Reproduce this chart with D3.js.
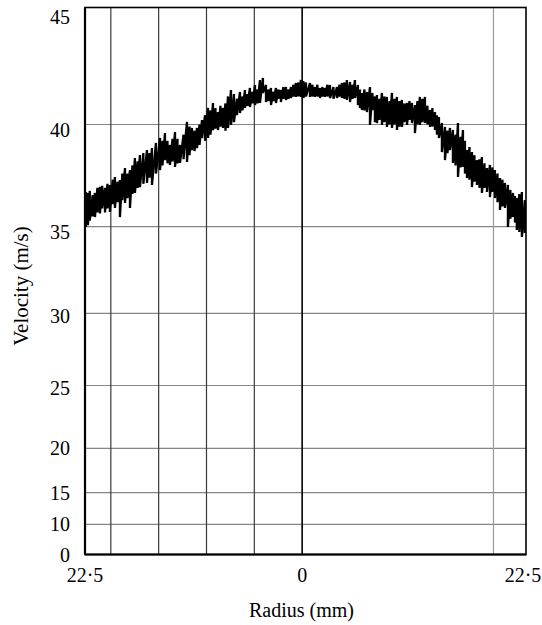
<!DOCTYPE html>
<html><head><meta charset="utf-8">
<script src="https://cdn.jsdelivr.net/npm/d3@7"></script>
<style>
body{margin:0;background:#fff;}
svg{display:block;}
</style></head>
<body>
<script>
// ---- data ----
const yTickValues = [0, 10, 15, 20, 25, 30, 35, 40, 45];
const xGridValues = [-20, -15, -10, -5, 0, 20];
const xTickLabels = ["22·5", "0", "22·5"];
const xTitle = "Radius (mm)";
const yTitle = "Velocity (m/s)";

// each vertical stroke of the measured trace: radius (mm), upper and lower velocity (m/s)
const radius = [
-22.6,-22.4,-22.2,-21.9,-21.66,-21.4,-21.14,-20.9,-20.61,-20.35,-20.09,-19.8,-19.57,-19.3,-19.05,-18.8,-18.52,-18.26,-18.0,-17.74,
-17.48,-17.2,-16.96,-16.6,-16.22,-15.96,-15.7,-15.28,-14.86,-14.6,-14.34,-14.08,-13.82,-13.55,-13.29,-13.03,-12.77,-12.4,-12.04,-11.78,
-11.52,-11.25,-10.99,-10.73,-10.47,-10.15,-9.84,-9.58,-9.32,-9.06,-8.8,-8.54,-8.28,-8.02,-7.75,-7.44,-7.13,-6.82,-6.5,-6.24,
-5.98,-5.72,-5.46,-5.19,-4.93,-4.67,-4.41,-4.1,-3.78,-3.52,-3.26,-3.0,-2.74,-2.48,-2.22,-1.96,-1.69,-1.43,-1.17,-0.91,
-0.65,-0.39,-0.13,0.14,0.4,0.82,1.08,1.34,1.6,1.86,2.12,2.38,2.64,2.91,3.27,3.64,3.9,4.16,4.42,4.68,
5.0,5.26,5.52,5.83,6.04,6.25,6.51,6.77,7.09,7.35,7.61,7.82,8.08,8.34,8.6,8.86,9.13,9.39,9.65,9.91,
10.17,10.43,10.69,10.96,11.22,11.48,11.79,12.05,12.31,12.57,12.84,13.1,13.36,13.62,13.88,14.09,14.3,14.61,14.93,15.19,
15.45,15.76,16.03,16.29,16.55,16.81,17.02,17.23,17.49,17.75,18.01,18.27,18.53,18.79,19.06,19.32,19.63,19.89,20.15,20.42,
20.68,20.94,21.2,21.51,21.77,22.04,22.25,22.44,22.7,22.97,23.28
];
const vHigh = [
36.70,36.65,36.75,36.55,36.65,36.90,36.95,37.00,36.90,37.10,37.04,37.30,37.43,37.20,37.28,37.60,37.87,37.60,37.77,38.00,
38.36,38.20,38.51,38.60,38.75,38.60,38.85,39.10,39.34,39.20,39.58,39.20,39.00,39.30,39.63,39.30,39.00,39.50,40.11,39.90,
39.83,39.70,39.83,40.00,40.19,40.40,40.71,40.60,40.92,40.70,40.53,40.80,40.71,40.90,41.20,41.47,41.30,41.10,41.39,41.20,
41.47,41.30,41.56,41.40,41.69,41.50,41.90,41.99,41.69,41.50,41.56,41.40,41.56,41.50,41.47,41.60,41.60,41.50,41.60,41.70,
41.77,41.80,41.90,41.85,41.80,41.77,41.70,41.60,41.70,41.56,41.60,41.56,41.70,41.69,41.60,41.60,41.70,41.77,41.80,41.90,
41.82,41.70,41.90,41.69,41.50,41.35,41.50,41.39,41.60,41.35,41.20,41.26,41.10,41.35,41.20,41.18,41.00,41.35,41.10,41.18,
41.00,41.05,40.90,40.92,41.00,40.92,40.83,41.00,41.18,41.10,41.18,40.80,40.62,40.70,40.53,40.40,40.32,40.06,39.88,39.70,
39.83,39.73,39.50,40.06,39.40,39.73,39.20,38.75,38.90,38.65,38.50,38.26,38.30,38.41,38.10,37.87,38.02,37.90,37.77,37.60,
37.38,37.30,37.14,37.04,36.80,36.65,36.50,36.40,36.60,36.70,36.30
];
const vLow = [
34.98,35.08,35.30,35.50,35.47,35.70,35.65,35.90,35.70,35.90,35.72,36.10,35.92,36.20,35.47,36.30,36.16,36.40,35.92,36.60,
36.65,36.90,36.94,37.10,37.14,37.40,37.04,37.60,37.77,38.00,38.26,38.10,38.02,38.20,37.92,38.10,38.12,38.30,38.17,38.50,
38.75,38.70,38.85,39.00,39.34,39.20,39.34,39.50,39.73,39.80,39.73,39.90,39.83,39.70,39.83,39.98,40.10,40.40,40.49,40.60,
40.71,40.80,40.75,40.90,40.83,40.90,40.92,41.35,40.96,41.00,40.83,41.00,40.92,41.10,40.96,41.10,41.05,41.10,41.13,41.20,
41.18,41.20,41.18,41.13,41.20,41.18,41.20,41.18,41.20,41.13,41.20,41.18,41.20,41.13,41.10,41.13,41.20,41.13,41.10,41.05,
40.96,41.10,41.13,40.83,40.70,40.62,40.60,40.53,39.98,40.62,40.10,40.06,40.20,39.98,40.10,39.88,40.00,39.83,40.00,39.73,
39.90,39.88,40.10,39.98,40.20,40.06,39.58,40.00,39.98,40.10,40.06,40.00,39.88,39.90,39.73,39.50,39.34,38.65,38.26,38.60,
38.75,38.12,38.00,37.43,37.90,37.92,37.60,37.38,37.30,36.94,37.20,37.04,36.90,36.65,36.90,36.70,36.45,36.70,36.40,36.20,
35.82,36.00,35.92,34.98,35.40,35.47,35.20,34.81,34.70,34.41,34.64
];

// ---- layout ----
const W = 542, H = 625;
const FONT = '"Times New Roman", Tinos, "DejaVu Serif"';
const plot = {left: 85, right: 526, top: 7.5, bottom: 554.5};
// the printed velocity axis is non-uniform: each labelled value sits at its own height
const yStops = [554.5, 524.3, 492.7, 448.3, 385.5, 313.3, 226.7, 124.5, 7.5];

const svg = d3.select("body").append("svg").attr("width", W).attr("height", H);

const x = d3.scaleLinear().domain([-22.7, 23.4]).range([plot.left, plot.right]);
const y = d3.scaleLinear().domain(yTickValues).range(yStops);

// horizontal grid
svg.append("g").selectAll("line").data(yTickValues.filter(v => v > 0 && v < 45)).join("line")
  .attr("x1", plot.left).attr("x2", plot.right)
  .attr("y1", d => y(d)).attr("y2", d => y(d))
  .attr("stroke", "#858585").attr("stroke-width", 1.2);

// vertical grid
svg.append("g").selectAll("line").data(xGridValues).join("line")
  .attr("x1", d => x(d)).attr("x2", d => x(d))
  .attr("y1", plot.top).attr("y2", plot.bottom)
  .attr("stroke", d => d === 0 ? "#000" : (d > 0 ? "#9a9a9a" : "#3a3a3a"))
  .attr("stroke-width", d => d === 0 ? 1.6 : 1.2);

// frame
svg.append("rect")
  .attr("x", plot.left).attr("y", plot.top)
  .attr("width", plot.right - plot.left).attr("height", plot.bottom - plot.top)
  .attr("fill", "none").attr("stroke", "#000").attr("stroke-width", 1.6);
svg.append("line").attr("x1", plot.left).attr("x2", plot.right)
  .attr("y1", plot.bottom).attr("y2", plot.bottom).attr("stroke", "#000").attr("stroke-width", 2.2);
svg.append("line").attr("x1", plot.left).attr("x2", plot.left)
  .attr("y1", plot.top).attr("y2", plot.bottom).attr("stroke", "#000").attr("stroke-width", 2.2);

// trace
const pts = [];
radius.forEach((r, i) => { pts.push([r, vHigh[i]]); pts.push([r, vLow[i]]); });
const line = d3.line().x(d => x(d[0])).y(d => y(d[1]));
svg.append("path").attr("d", line(pts))
  .attr("fill", "none").attr("stroke", "#000").attr("stroke-width", 2.3)
  .attr("stroke-linejoin", "bevel");

// y tick labels (printed slightly below their lines in the upper part)
svg.append("g").selectAll("text").data(yTickValues).join("text")
  .attr("x", 70)
  .attr("y", d => Math.max(y(d) + (d >= 35 ? 5 : d >= 25 ? 2.5 : 0), 16.5))
  .attr("dy", "0.35em")
  .attr("text-anchor", "end").attr("font-size", 20)
  .style("font-family", FONT)
  .text(d => d);

// x tick labels
const xLabelPos = [x.range()[0], x(0), x.range()[1] - 3];
svg.append("g").selectAll("text").data(xTickLabels).join("text")
  .attr("x", (d, i) => xLabelPos[i]).attr("y", 582)
  .attr("text-anchor", "middle").attr("font-size", 20)
  .style("font-family", FONT)
  .text(d => d);

// titles
svg.append("text").attr("x", (plot.left + plot.right) / 2 - 4).attr("y", 617)
  .attr("text-anchor", "middle").attr("font-size", 20)
  .style("font-family", FONT).text(xTitle);
svg.append("text").attr("transform", "translate(28,286) rotate(-90)")
  .attr("text-anchor", "middle").attr("font-size", 21)
  .style("font-family", FONT).text(yTitle);
</script>
</body></html>
